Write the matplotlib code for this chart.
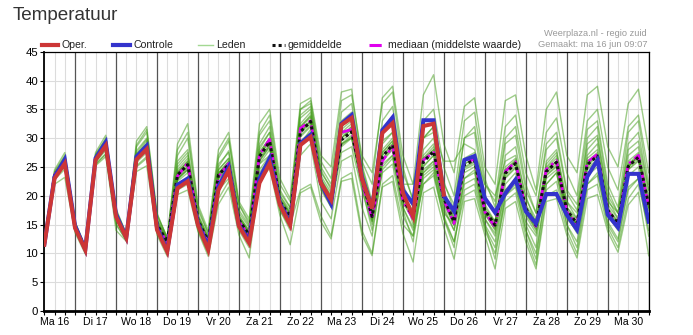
import matplotlib
matplotlib.use("Agg")
from matplotlib import pyplot as plt
from matplotlib.lines import Line2D

plt.rcParams['font.family'] = ['Liberation Sans', 'DejaVu Sans']

# 6-hourly steps, hours after Ma 16 00:00
hours = list(range(6, 361, 6))
days = ['Ma 16', 'Di 17', 'Wo 18', 'Do 19', 'Vr 20', 'Za 21', 'Zo 22', 'Ma 23',
        'Di 24', 'Wo 25', 'Do 26', 'Vr 27', 'Za 28', 'Zo 29', 'Ma 30']

oper = [11.5, 23.0, 25.6, 14.4, 10.6, 26.2, 28.7, 16.4, 12.7, 26.3, 28.1, 14.1,
        10.3, 21.3, 22.5, 14.9, 10.6, 21.0, 24.4, 14.7, 11.8, 22.2, 25.6, 18.4,
        14.9, 28.8, 30.2, 22.2, 19.3, 32.3, 33.5, 23.0, 17.8, 30.9, 32.6, 20.5,
        16.4, 32.1, 32.5, 20.2]

controle = [11.5, 23.3, 26.3, 14.8, 10.7, 26.5, 29.3, 16.8, 12.8, 26.8, 28.7, 14.5,
            10.5, 21.9, 23.0, 15.2, 11.2, 21.6, 25.0, 14.9, 12.3, 23.0, 26.5, 18.7,
            15.2, 29.1, 30.6, 22.2, 18.6, 32.5, 34.0, 23.3, 17.8, 31.4, 33.6, 21.0,
            18.6, 33.1, 33.1, 20.0, 17.3, 26.2, 26.9, 19.6, 17.1, 20.4, 22.8, 17.3,
            15.2, 20.3, 20.3, 16.7, 14.1, 23.3, 26.2, 16.7, 14.5, 23.8, 23.8, 15.5]

gemiddelde = [11.5, 23.5, 26.0, 14.8, 10.8, 26.3, 28.6, 16.5, 12.8, 26.8, 28.5, 15.0,
              12.0, 23.6, 25.4, 15.8, 12.0, 23.6, 25.4, 15.8, 13.2, 26.8, 29.4, 19.0,
              16.4, 31.1, 32.9, 22.2, 19.0, 29.7, 31.1, 23.0, 16.4, 26.8, 28.8, 19.5,
              16.4, 25.9, 27.7, 19.6, 15.5, 25.4, 26.2, 17.5, 14.9, 23.9, 25.6, 17.8,
              14.9, 24.2, 25.8, 17.5, 15.2, 25.4, 26.9, 17.5, 15.2, 25.1, 26.7, 18.4]

mediaan = [11.5, 23.6, 26.1, 14.7, 10.7, 26.4, 28.7, 16.4, 12.7, 26.7, 28.6, 14.8,
           11.8, 23.4, 25.7, 15.6, 11.8, 23.3, 25.6, 15.5, 13.0, 27.1, 29.8, 18.7,
           16.0, 31.7, 33.0, 22.0, 18.5, 31.0, 31.5, 22.6, 16.0, 26.0, 28.6, 19.2,
           16.0, 26.2, 27.5, 19.3, 15.2, 25.6, 26.4, 17.2, 14.6, 24.2, 25.9, 17.5,
           14.7, 24.6, 26.1, 17.2, 15.0, 25.8, 27.2, 17.3, 15.0, 25.5, 27.0, 18.0]

leden = [
    [11.6, 24.5, 27.5, 15.5, 11.2, 27.5, 30.5, 17.5, 13.5, 29.5, 32, 17, 12.5, 29, 32.5, 18.5,
     14, 28, 31, 19, 16, 32.5, 35, 23, 19.5, 36, 37, 27, 25, 38, 38.5, 26, 22, 37, 39, 27,
     22, 37.5, 41, 29, 24, 35.5, 37, 25, 22, 36.5, 37.5, 27, 21, 35, 38, 27, 24, 37.5, 39, 28.5,
     25, 36, 38.5, 28],
    [11, 22, 23.2, 13.6, 9.9, 25.2, 26.8, 14, 12.1, 24.2, 25.2, 13.2, 9.5, 20.2, 21, 13.8,
     9.5, 18.5, 21.5, 13.2, 9.2, 22.5, 24.8, 16.6, 11.5, 20.5, 21.5, 15.5, 12.5, 22.5, 23, 13.2,
     9.6, 21.5, 22.5, 13.5, 8.5, 20.5, 21.5, 14.5, 9, 19, 19.5, 13.2, 7.3, 17.8, 19, 12,
     7.3, 19, 19.5, 13.2, 9.2, 19.5, 20.2, 13.8, 10.2, 18.4, 20.6, 9.6],
    [11.5, 23.8, 26.5, 15, 10.9, 26.6, 29, 16.8, 13, 27.2, 29, 15.3, 12.3, 24.5, 26.5, 16.2,
     12.5, 24.5, 26.5, 16.5, 13.8, 27.5, 30, 19.5, 17, 32, 33.8, 23, 19.5, 31, 32.5, 24,
     17.5, 28, 30, 20.5, 17, 27, 29, 20.5, 16.5, 26.5, 27.5, 18.5, 15.5, 25, 26.5, 18.5,
     15.5, 25, 27, 18, 16, 26.5, 28, 18.5, 16, 26, 27.5, 19],
    [11.4, 23.2, 25.6, 14.6, 10.7, 26, 28.2, 16.2, 12.6, 26.3, 28, 14.7, 11.7, 22.8, 24.5, 15.4,
     11.6, 22.8, 24.6, 15.3, 12.7, 26, 28.6, 18.5, 15.8, 30.2, 32, 21.5, 18.3, 28.5, 30, 22.2,
     15.6, 26, 28, 18.8, 15.8, 25, 27, 19, 14.8, 24.5, 25.5, 16.8, 14.2, 23, 24.8, 17,
     14.2, 23.5, 25, 17, 14.6, 24.5, 26, 17, 14.6, 24.5, 26, 17.8],
    [11.7, 24, 26.8, 15.3, 11, 27, 30, 17.8, 13.3, 28.5, 31, 16.5, 12.8, 27, 30, 17.5,
     13.5, 26.5, 29.5, 18.5, 15.5, 31, 34, 22, 19, 35, 36.5, 26, 23, 36.5, 37.5, 27,
     24, 36, 38, 25, 19, 30, 32, 21, 16, 24, 25, 16, 13, 21, 23, 15.5,
     13, 22, 24, 16, 14, 27, 29, 19, 17, 29, 31, 21],
    [11.3, 23, 25, 14.2, 10.3, 25.5, 27.3, 15, 12.3, 25, 26.5, 14, 10, 21, 22, 14,
     10, 19.5, 22.5, 14, 11, 24, 26.5, 17.5, 14, 29, 31.5, 21, 18, 30, 32, 23.5,
     17, 29, 31, 21, 15, 24, 26, 18, 14, 22, 23, 15, 12, 21, 22.5, 15,
     11, 26, 28, 19, 16, 30, 32, 21, 17, 27, 28.5, 20],
    [11.6, 23.7, 26.2, 15.1, 10.8, 26.4, 28.8, 16.6, 12.9, 27, 29.5, 15.8, 12.4, 26, 28, 16.5,
     12.8, 25.5, 27.5, 17, 14.5, 29, 32, 20.5, 18, 33.5, 35, 24.5, 21, 33, 34.5, 25,
     18.5, 31, 33, 22, 18, 30, 32, 22.5, 17.5, 30, 31, 20, 17, 29, 30.5, 21,
     17, 28, 30, 20.5, 17.5, 29, 30.5, 20, 17, 28, 29.5, 21],
    [11.4, 23.4, 25.8, 14.7, 10.6, 26.1, 28.4, 16.3, 12.7, 26.5, 28.2, 14.9, 11.9, 23.5, 25, 15.5,
     11.8, 23.2, 25, 15.6, 13, 26.5, 29, 18.8, 16, 31, 33, 21.8, 18.8, 29, 30, 21.5,
     14, 24, 25.5, 16.5, 13, 22, 23.5, 16, 12, 21, 22, 14.5, 11, 20, 21.5, 14,
     10, 21, 22.5, 15, 12, 22, 23.5, 15.5, 12.5, 21.5, 23, 16],
    [11.5, 23.5, 26, 14.9, 10.8, 26.3, 28.6, 16.5, 12.8, 26.8, 28.5, 15, 12, 23.5, 25.5, 15.8,
     12, 24, 25.5, 16, 13.5, 27, 29.5, 19, 16.5, 31.5, 33, 22, 19, 29.5, 31, 23,
     16, 27, 29, 20, 17.5, 28, 30, 22, 18.5, 30, 32, 22, 19, 32, 34, 24,
     20, 31, 33.5, 24, 20, 33, 35, 25, 21, 32, 34, 24],
    [11.2, 22.8, 24.6, 14, 10.2, 25.4, 27.2, 15.2, 12.2, 25.2, 26.8, 13.6, 10.5, 21.5, 23, 14.5,
     10.5, 21, 23, 14.5, 11.5, 24.5, 27, 17.5, 14.5, 27, 29, 19, 16, 26, 27, 18,
     13, 25, 27, 17.5, 12, 23, 24.5, 16, 11, 23, 24.5, 15, 9, 20, 22, 14,
     9, 22, 24, 15, 11, 22, 24, 15, 12, 21, 23, 13],
    [11.5, 23.9, 26.6, 15, 11.1, 26.9, 29.5, 17, 13.1, 27.8, 30, 16, 12.6, 25.5, 27.5, 16.8,
     13, 25, 27.8, 17.5, 14.8, 28.5, 31, 20, 17.5, 34, 35.5, 24, 21.5, 32, 33.5, 24.5,
     18, 29.5, 31, 21, 16, 24.5, 26, 18.5, 15, 26, 27, 17.5, 15, 27, 28.5, 19.5,
     16, 25.5, 27.5, 19, 17, 28, 30, 19.5, 16, 25, 27, 18],
    [11.3, 23.1, 25.3, 14.4, 10.5, 25.8, 27.9, 15.8, 12.5, 25.8, 27.5, 14.5, 11.5, 22.5, 24, 15,
     11.3, 22.5, 24, 15, 12.5, 25.5, 28, 18, 15.5, 29.5, 31, 21.5, 18, 27.5, 28.5, 21,
     15, 24.5, 26.5, 18, 14.5, 23.5, 25, 17.5, 14, 23, 24, 16, 13.5, 22, 24, 16.5,
     13.5, 23, 24.5, 16.5, 13.5, 23.5, 25, 16.5, 14, 23.5, 25, 17.5],
    [11.6, 23.6, 26.1, 14.8, 10.8, 26.3, 28.7, 16.4, 12.9, 26.6, 28.3, 15.2, 12.1, 24, 25.8, 16,
     12.3, 23.8, 26, 16.2, 13.8, 25.5, 27, 18, 15, 21, 22, 16.5, 13, 23, 24, 14,
     10, 22, 23.5, 15, 13, 24, 25.5, 17, 15, 25, 26, 17, 14, 24, 26, 17,
     14, 24, 25.5, 17.5, 15, 25, 27, 17, 15, 25, 26.5, 18],
    [11.5, 23.3, 25.9, 14.9, 10.7, 26.2, 28.5, 16.6, 12.8, 27.4, 29.8, 15.6, 12.5, 25, 27, 16.5,
     12.7, 24.5, 26.5, 16.5, 14, 28, 31, 20, 17, 32.5, 34.5, 23.5, 20.5, 31.5, 33, 23.5,
     17, 27.5, 29.5, 20, 16.5, 26.5, 28, 19.5, 15.5, 25.5, 26.5, 17.5, 15.5, 23.5, 25.5, 17.5,
     14.5, 24.5, 26, 17.5, 15, 25.5, 27, 17.5, 15.5, 25, 27, 18.5],
    [11.4, 23.5, 26, 14.7, 10.8, 26.4, 28.5, 16.6, 12.8, 26.8, 28.6, 15, 11.8, 23, 25, 15.5,
     12, 23.5, 25.5, 15.5, 12.5, 26, 28.5, 18.5, 16, 31, 32.5, 21.5, 18.5, 29, 30.5, 22,
     15.5, 25.5, 27, 18, 14, 22, 24, 16.5, 12, 20, 21, 14, 10, 19, 20.5, 13,
     8, 20, 21, 14, 10, 21, 22, 14.5, 11, 19.5, 22, 14],
    [11.7, 24.2, 27, 15.4, 11, 27.2, 29.8, 17.2, 13.2, 28.8, 31.5, 16.8, 12.8, 28, 31, 18,
     13.5, 27, 30, 18.5, 15, 30.5, 33, 21, 18, 35, 36, 25, 22, 34.5, 36, 25.5,
     19, 33, 35.5, 24, 19.5, 33, 35, 25, 20, 33, 34.5, 23, 18, 30, 32, 22,
     17, 29, 31, 21, 18.5, 31.5, 33, 22, 18, 31, 33, 22],
    [11.6, 23.7, 26.3, 14.9, 10.9, 26.5, 28.9, 16.7, 12.9, 27.1, 29, 15.2, 12.2, 24.2, 26, 16,
     12.2, 24, 26, 16.2, 13.3, 27.2, 29.8, 19.2, 16.8, 31.8, 33.6, 22.8, 19.8, 30.5, 32, 23.5,
     17, 27.5, 29.5, 20, 16.8, 26.5, 28.5, 20, 16, 26, 27, 18, 15.5, 24.5, 26.2, 18.2,
     15.2, 24.8, 26.5, 18, 15.5, 26, 27.5, 18, 15.5, 25.5, 27.2, 18.8],
    [11.4, 23.2, 25.7, 14.6, 10.6, 26, 28.2, 16.2, 12.6, 26.2, 27.8, 14.7, 11.7, 22.8, 24.7, 15.5,
     11.6, 23, 24.8, 15.4, 12.8, 26.2, 28.8, 18.6, 16, 30.5, 32.2, 21.8, 18.5, 28.8, 30.2, 22.5,
     15.8, 26.2, 28.2, 19, 16, 25.2, 27, 19.2, 15, 24.8, 25.8, 17, 14.5, 23.2, 25, 17.3,
     14.5, 23.6, 25.2, 17.2, 14.8, 24.8, 26.3, 17.2, 14.8, 24.6, 26.2, 18],
    [11.5, 23.5, 26.2, 15, 10.9, 26.2, 28.5, 16.5, 12.8, 27, 28.8, 15.2, 12, 23, 24.5, 15.6,
     12, 23.5, 25.5, 15.8, 13.5, 27, 29.5, 19, 16.5, 31, 33, 22.5, 19, 30, 31.5, 23,
     16.5, 26.5, 28.5, 19.5, 16.5, 26, 28, 19.8, 15.5, 25.5, 26.5, 17.5, 15, 24.5, 26, 17.8,
     15, 24.5, 26, 17.5, 15.2, 25.5, 27, 17.5, 15.2, 25.2, 26.8, 18.5],
    [11.5, 23.6, 26, 14.8, 10.8, 26.3, 28.6, 16.4, 12.8, 26.8, 28.5, 15, 12, 24, 26, 16,
     12, 23.8, 25.5, 16, 13.5, 27.5, 30, 19.5, 17, 32, 34, 23, 20, 30, 31.5, 23,
     17, 27, 29, 22, 22, 30, 31, 26, 26, 29, 28, 22, 20, 26, 27, 20,
     15, 24, 26, 17, 15, 26, 27, 17, 15, 25, 27, 18],
]

W, H = 693, 335
fig = plt.figure(figsize=(W / 100, H / 100), dpi=100)
ax = fig.add_axes([44.3 / W, 1 - 311 / H, (648.7 - 44.3) / W, (311 - 51.7) / H])

# grid
for y in range(5, 45, 5):
    ax.axhline(y, color='#dcdcdc', lw=0.8, zorder=0)
for h in hours:
    if h % 24 == 0:
        ax.axvline(h, color='#555555', lw=0.9, zorder=0.5)
    else:
        ax.axvline(h, color='#dcdcdc', lw=0.8, zorder=0)

for m in leden:
    ax.plot(hours, m, color='#3d9a12', lw=1.0, alpha=0.5, zorder=1)

ax.plot(hours, mediaan, color='#e000ee', lw=2.0, ls=(0, (4, 1.5, 1, 1.5)), zorder=3)
ax.plot(hours, gemiddelde, color='#111111', lw=2.2, ls=(0, (1, 1)), zorder=4)
ax.plot(hours, controle, color='#3333cc', lw=2.9, zorder=5, solid_joinstyle='miter')
ax.plot(hours[:len(oper)], oper, color='#cc3636', lw=2.9, zorder=6, solid_joinstyle='miter')

ax.set_xlim(6, 360)
ax.set_ylim(0, 45)
ax.set_yticks(range(0, 46, 5))
ax.set_xticks([12 + 24 * i for i in range(len(days))])
ax.set_xticklabels(days)
ax.set_xticks(hours, minor=True)
ax.tick_params(axis='x', which='both', length=3, width=0.8, color='black', pad=1.5, labelsize=7.6)
ax.tick_params(axis='y', length=3, width=0.8, pad=1.5, labelsize=8.2)
for s, w in (('left', 1.3), ('bottom', 2.0), ('top', 0.9), ('right', 0.9)):
    ax.spines[s].set_linewidth(w)
    ax.spines[s].set_color('black')


def fx(px):
    return px / W


def fy(py):
    return 1 - py / H


fig.text(fx(13), fy(16), 'Temperatuur', fontsize=13.6, color='#333333', va='center', ha='left')

legend_items = [
    (41.7, 58.3, dict(color='#cc3636', lw=3.0), 'Oper.'),
    (113.3, 130, dict(color='#3333cc', lw=3.0), 'Controle'),
    (197.7, 213.3, dict(color='#a3d892', lw=1.0), 'Leden'),
    (271.7, 285, dict(color='#111111', lw=2.2, ls=(0, (1, 1))), 'gemiddelde'),
    (369.3, 385, dict(color='#e000ee', lw=2.2, ls=(0, (4, 1.5, 1, 1.5))), 'mediaan (middelste waarde)'),
]
for x0, x1, style, label in legend_items:
    fig.add_artist(Line2D([fx(x0), fx(x1)], [fy(44.5), fy(44.5)], transform=fig.transFigure, **style))
    fig.text(fx(x1 + 3), fy(44.5), label, fontsize=7.6, color='#222222', va='center', ha='left')

fig.text(fx(647), fy(33), 'Weerplaza.nl - regio zuid', fontsize=6.7, color='#9a9a9a', va='center', ha='right')
fig.text(fx(647), fy(44.5), 'Gemaakt: ma 16 jun 09:07', fontsize=6.7, color='#9a9a9a', va='center', ha='right')

fig.savefig('out.png', dpi=100)
